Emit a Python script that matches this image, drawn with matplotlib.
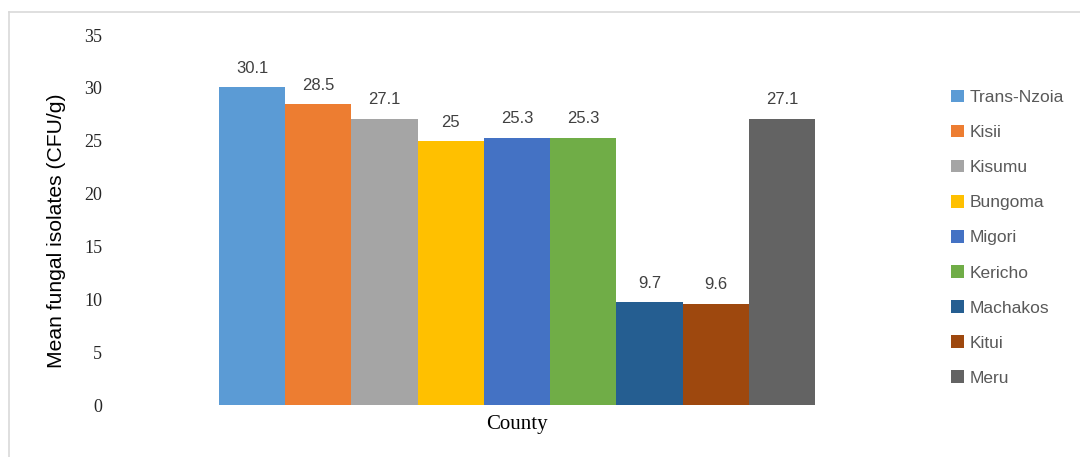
import matplotlib.pyplot as plt
from matplotlib.lines import Line2D

# Mean fungal isolates per county
counties = ['Trans-Nzoia', 'Kisii', 'Kisumu', 'Bungoma', 'Migori',
            'Kericho', 'Machakos', 'Kitui', 'Meru']
means = [30.1, 28.5, 27.1, 25, 25.3, 25.3, 9.7, 9.6, 27.1]
value_labels = ['30.1', '28.5', '27.1', '25', '25.3', '25.3', '9.7', '9.6', '27.1']
yticks = [0, 5, 10, 15, 20, 25, 30, 35]

colors = ['#5B9BD5', '#ED7D31', '#A5A5A5', '#FFC000', '#4472C4',
          '#70AD47', '#255E91', '#9E480E', '#636363']

W, H = 1080, 457
fig = plt.figure(figsize=(W / 100, H / 100), dpi=100)
ax = fig.add_axes([219 / W, 52 / H, 596 / W, 370 / H])

bars = []
for i, (name, val) in enumerate(zip(counties, means)):
    b = ax.bar(i, val, width=1.0, color=colors[i], label=name)
    bars.append(b)
    ax.annotate(value_labels[i], (i, val), xytext=(0, 8), textcoords='offset points',
                ha='center', va='bottom', fontsize=12, color='#404040',
                family='Liberation Sans')

ax.set_xlim(-0.5, len(counties) - 0.5)
ax.set_ylim(0, 35)
ax.set_yticks(yticks)
ax.set_yticklabels([str(t) for t in yticks], family='Liberation Serif', fontsize=13,
                   color='#262626')
ax.tick_params(axis='y', length=0, pad=84)
ax.set_xticks([])
for s in ax.spines.values():
    s.set_visible(False)

fig.text(57 / W, 1 - 231 / H, 'Mean fungal isolates (CFU/g)', rotation=90,
         ha='center', va='center', fontsize=15.2, family='Liberation Sans', color='#000000')
fig.text(517 / W, 1 - 425 / H, 'County', ha='center', va='center', fontsize=15,
         family='Liberation Serif', color='#000000')

leg = ax.legend(handles=[b[0] for b in bars], labels=counties, loc='upper left',
                bbox_to_anchor=(951 / W, 1 - 90 / H), bbox_transform=fig.transFigure,
                frameon=False, handlelength=0.72, handleheight=0.72,
                handletextpad=0.35, labelspacing=1.14, borderpad=0, borderaxespad=0,
                prop={'family': 'Liberation Sans', 'size': 12.5})
for t in leg.get_texts():
    t.set_color('#595959')

# outer chart frame (top and left edges)
fig.add_artist(Line2D([9 / W, 1], [1 - 12 / H, 1 - 12 / H], color='#D9D9D9', lw=1.2))
fig.add_artist(Line2D([9 / W, 9 / W], [0, 1 - 12 / H], color='#D9D9D9', lw=1.2))

fig.savefig('out.png', dpi=100)
